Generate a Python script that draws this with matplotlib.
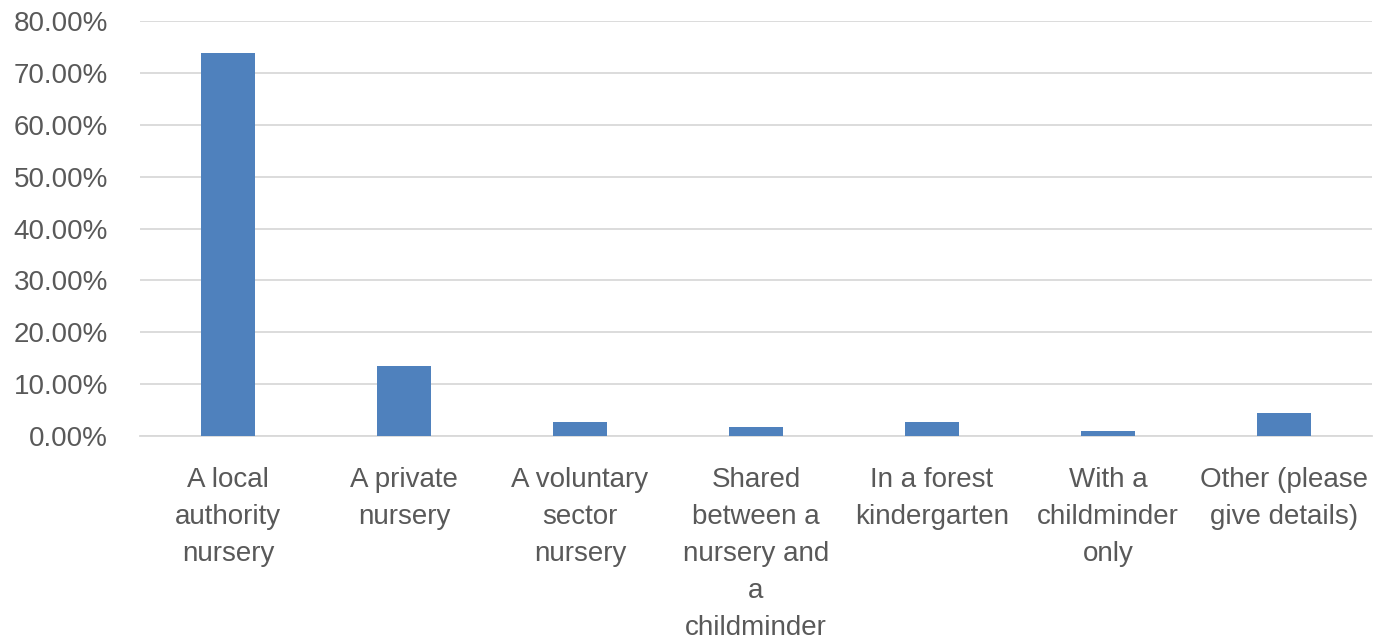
import matplotlib
matplotlib.use('Agg')
import matplotlib.pyplot as plt
from matplotlib.ticker import FuncFormatter

categories = [
    'A local\nauthority\nnursery',
    'A private\nnursery',
    'A voluntary\nsector\nnursery',
    'Shared\nbetween a\nnursery and\na\nchildminder',
    'In a forest\nkindergarten',
    'With a\nchildminder\nonly',
    'Other (please\ngive details)',
]
values = [73.8, 13.5, 2.7, 1.8, 2.7, 0.9, 4.5]
yticks = [0, 10, 20, 30, 40, 50, 60, 70, 80]

plt.rcParams['font.family'] = ['Liberation Sans', 'DejaVu Sans']

fig = plt.figure(figsize=(13.76, 6.44), dpi=100)
ax = fig.add_axes([0.1017, 0.323, 0.8953, 0.644])

x = list(range(len(categories)))
ax.bar(x, values, width=0.31, color='#4f81bd', zorder=3)

ax.set_xlim(-0.5, len(categories) - 0.5)
ax.set_ylim(0, 80)
ax.set_yticks(yticks)
ax.yaxis.set_major_formatter(FuncFormatter(lambda v, p: f'{v:.2f}%'))
ax.grid(axis='y', color='#d9d9d9', linewidth=1.3, zorder=0)

for s in ['top', 'right', 'left']:
    ax.spines[s].set_visible(False)
ax.spines['bottom'].set_color('#d9d9d9')
ax.spines['bottom'].set_linewidth(1.3)

ax.set_xticks(x)
ax.set_xticklabels(categories, fontsize=20, color='#595959', linespacing=1.56)
ax.tick_params(axis='x', length=0, pad=22)
ax.tick_params(axis='y', length=0, labelsize=20, labelcolor='#595959', pad=23)

fig.savefig('out.png', dpi=100)
